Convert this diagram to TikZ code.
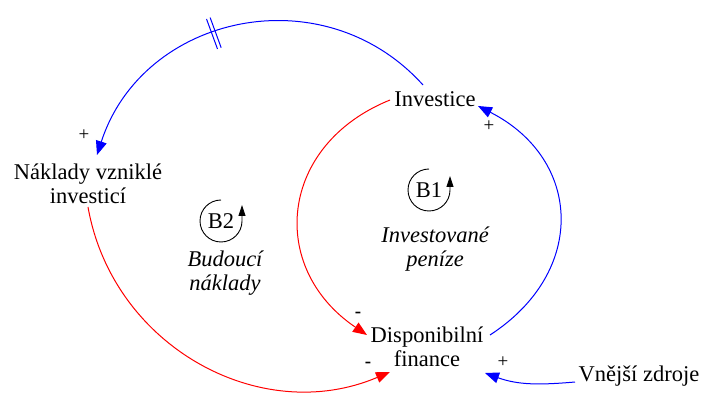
\documentclass[tikz,border=0pt]{standalone}
\usepackage{fontspec}
\setmainfont{LiberationSerif}[Extension=.ttf,UprightFont=*-Regular,ItalicFont=*-Italic,BoldFont=*-Bold]
\usetikzlibrary{arrows.meta,calc}

\begin{document}
\begin{tikzpicture}[x=1pt,y=1pt,font=\fontsize{22.5}{24}\selectfont,
  var/.style={inner sep=0pt,align=center},
  poslink/.style={blue,line width=1pt,-{Triangle[length=14pt,width=11pt]}},
  neglink/.style={red,line width=1pt,-{Triangle[length=14pt,width=11pt]}},
  signlbl/.style={inner sep=0pt,font=\fontsize{19}{19}\selectfont},
  loopsym/.style={line width=.9pt,-{Triangle[length=11pt,width=7pt]}},
  looptext/.style={align=center,inner sep=0pt,font=\fontsize{22.5}{24}\selectfont\itshape}]
\useasboundingbox (0,0) rectangle (701,396);
\node[var] (inv) at (435,297) {Investice};
\node[var] (nak) at (88,212) {Náklady vzniklé\\investicí};
\node[var] (disp) at (427,49) {Disponibilní\\finance};
\node[var] (vnej) at (639,20) {Vnější zdroje};
\node[inner sep=0pt] (b1) at (429,206) {B1};
\node[inner sep=0pt] (b2) at (221,175) {B2};
\node[looptext] (t1) at (435,147) {Investované\\peníze};
\node[looptext] (t2) at (225,123) {Budoucí\\náklady};
\draw[loopsym] ([yshift=21pt]b1.center) arc[start angle=90,end angle=360,radius=21pt] -- ++(0,14);
\draw[loopsym] ([yshift=21pt]b2.center) arc[start angle=90,end angle=360,radius=21pt] -- ++(0,16);
\draw[poslink] ([shift={(-12,14)}]inv.center) to[out=132,in=72,looseness=1.14]
  coordinate[pos=.565] (dl1) coordinate[pos=.575] (dl2) ([shift={(9,29)}]nak.center);
\draw[blue,line width=1pt] ($(dl1)!16pt!90:(dl2)$) -- ($(dl1)!16pt!-90:(dl2)$);
\draw[blue,line width=1pt] ($(dl2)!16pt!90:(dl1)$) -- ($(dl2)!16pt!-90:(dl1)$);
\draw[neglink] ([shift={(-45,-1)}]inv.center) to[out=202,in=146,looseness=1.3] ([shift={(-60,12)}]disp.center);
\draw[poslink] ([shift={(63,12)}]disp.center) to[out=33,in=-27,looseness=1.3] ([shift={(43,-7)}]inv.center);
\draw[neglink] ([shift={(0,-23)}]nak.center) to[out=280,in=203,looseness=1.05] ([shift={(-37,-25)}]disp.center);
\draw[poslink] ([shift={(-64,-6)}]vnej.center) to[out=185,in=-20] ([shift={(58,-26)}]disp.center);
\node[signlbl] (s1) at (84,261) {+};
\node[signlbl] (s2) at (489,270) {+};
\node[signlbl] (s3) at (358,81) {\textbf{-}};
\node[signlbl] (s4) at (368,31) {\textbf{-}};
\node[signlbl] (s5) at (503,34) {+};
\end{tikzpicture}
\end{document}
